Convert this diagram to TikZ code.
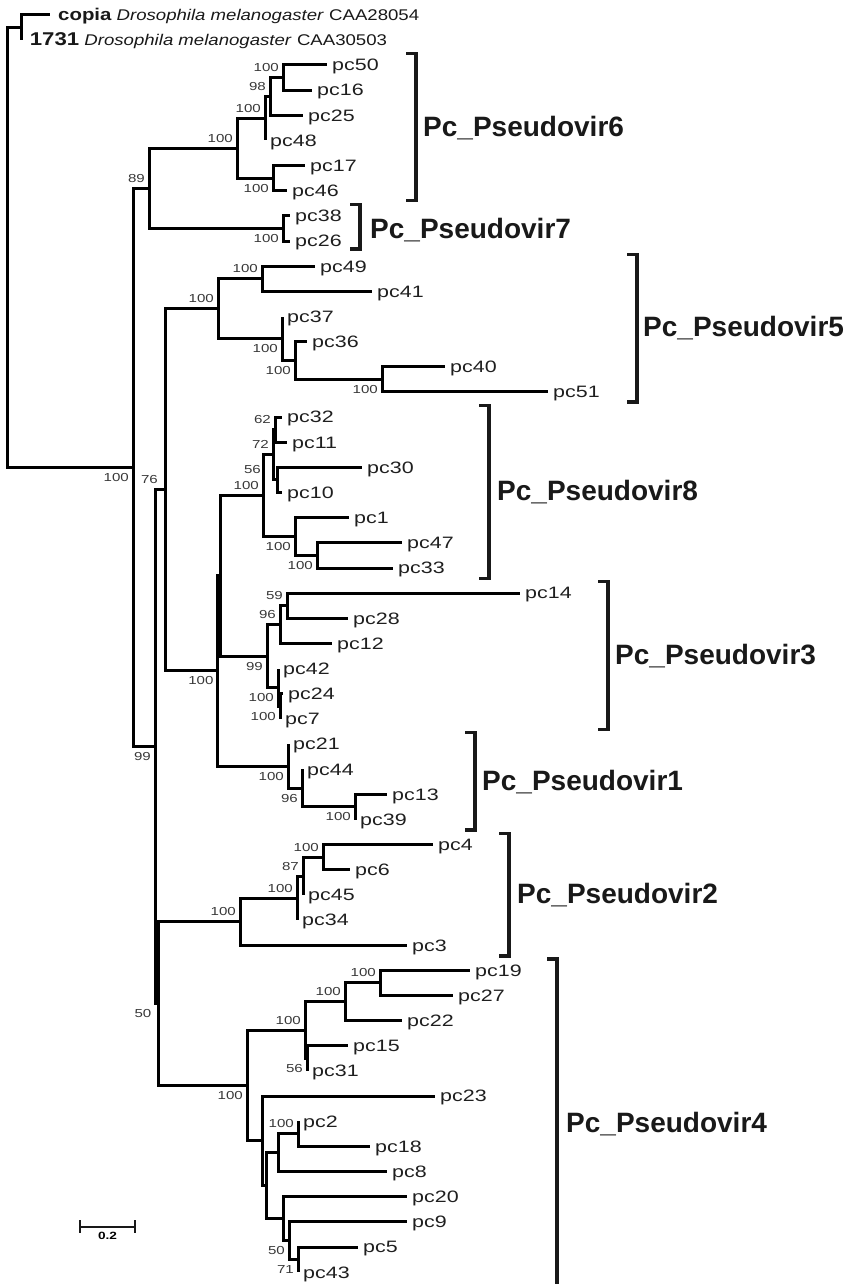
\documentclass[tikz,border=0pt]{standalone}
\usepackage{fontspec}
\setmainfont{Liberation Sans}
\newfontfamily\treefont[FakeStretch=1.3]{Liberation Sans}
\newfontfamily\rootfont[FakeStretch=1.2]{Liberation Sans}
\tikzset{
    branch/.style = {line width=3pt, draw=black},
    bracket/.style = {line width=3.4pt, draw=black!90},
    scalebar/.style = {line width=1.6pt, draw=black!90},
    tip/.style = {anchor=base west, inner sep=0pt, xshift=5pt, yshift=-5.8pt, text=black!88, font=\treefont\fontsize{16.5}{18}\selectfont},
    rootlbl/.style = {anchor=base west, inner sep=0pt, xshift=8pt, yshift=-5.6pt, text=black!90, font=\rootfont\fontsize{15.5}{17}\selectfont},
    bu/.style = {anchor=base east, inner sep=0pt, xshift=-4pt, yshift=6pt, text=black!78, font=\treefont\fontsize{11.6}{12}\selectfont},
    bd/.style = {anchor=base east, inner sep=0pt, xshift=-4pt, yshift=-14pt, text=black!78, font=\treefont\fontsize{11.6}{12}\selectfont},
    clade/.style = {anchor=base west, inner sep=0pt, yshift=-10pt, text=black!90, font=\bfseries\fontsize{28}{30}\selectfont}
}
\begin{document}
\begin{tikzpicture}[x=1pt, y=-1pt]
\useasboundingbox (0,0) rectangle (851,1284);
%
% tips
\coordinate (copia) at (50, 14.7);
\coordinate (t1731) at (21.7, 39.85);
\coordinate (pc50) at (327, 65.0);
\coordinate (pc16) at (312, 90.15);
\coordinate (pc25) at (303, 115.3);
\coordinate (pc48) at (265, 140.45);
\coordinate (pc17) at (305, 165.6);
\coordinate (pc46) at (287, 190.75);
\coordinate (pc38) at (290, 215.9);
\coordinate (pc26) at (290, 241.05);
\coordinate (pc49) at (315, 266.2);
\coordinate (pc41) at (372, 291.35);
\coordinate (pc37) at (282, 316.5);
\coordinate (pc36) at (307, 341.65);
\coordinate (pc40) at (445, 366.8);
\coordinate (pc51) at (548, 391.95);
\coordinate (pc32) at (282, 417.1);
\coordinate (pc11) at (287, 442.25);
\coordinate (pc30) at (362, 467.4);
\coordinate (pc10) at (282, 492.55);
\coordinate (pc1) at (349, 517.7);
\coordinate (pc47) at (402, 542.85);
\coordinate (pc33) at (393, 568.0);
\coordinate (pc14) at (520, 593.15);
\coordinate (pc28) at (348, 618.3);
\coordinate (pc12) at (332, 643.45);
\coordinate (pc42) at (278, 668.6);
\coordinate (pc24) at (283, 693.75);
\coordinate (pc7) at (280, 718.9);
\coordinate (pc21) at (288, 744.05);
\coordinate (pc44) at (302, 769.2);
\coordinate (pc13) at (387, 794.35);
\coordinate (pc39) at (355, 819.5);
\coordinate (pc4) at (433, 844.65);
\coordinate (pc6) at (350, 869.8);
\coordinate (pc45) at (303, 894.95);
\coordinate (pc34) at (297, 920.1);
\coordinate (pc3) at (407, 945.25);
\coordinate (pc19) at (470, 970.4);
\coordinate (pc27) at (453, 995.55);
\coordinate (pc22) at (402, 1020.7);
\coordinate (pc15) at (348, 1045.85);
\coordinate (pc31) at (307, 1071.0);
\coordinate (pc23) at (435, 1096.15);
\coordinate (pc2) at (298, 1121.3);
\coordinate (pc18) at (370, 1146.45);
\coordinate (pc8) at (387, 1171.6);
\coordinate (pc20) at (407, 1196.75);
\coordinate (pc9) at (407, 1221.9);
\coordinate (pc5) at (358, 1247.05);
\coordinate (pc43) at (298, 1272.2);
%
% inner nodes
\coordinate (R0) at (7, 247.41);
\coordinate (CO) at (21.7, 27.28);
\coordinate (IN) at (133, 467.55);
\coordinate (P67) at (149, 188.39);
\coordinate (P6) at (237, 148.31);
\coordinate (A) at (265, 118.44);
\coordinate (A1) at (270, 96.44);
\coordinate (A2) at (283, 77.575);
\coordinate (B) at (273, 178.18);
\coordinate (P7) at (283, 228.48);
\coordinate (N99) at (155, 746.70);
\coordinate (N76) at (165, 489.80);
\coordinate (P5) at (218, 308.64);
\coordinate (P5a) at (262, 278.78);
\coordinate (P5b) at (282, 338.51);
\coordinate (P5c) at (295, 360.51);
\coordinate (P5d) at (382, 379.38);
\coordinate (NA) at (217.7, 670.96);
\coordinate (NB) at (220.7, 575.86);
\coordinate (P8) at (263, 495.70);
\coordinate (n72) at (273, 454.83);
\coordinate (n62) at (275, 429.68);
\coordinate (n56) at (277, 479.98);
\coordinate (P8b) at (295, 536.56);
\coordinate (P8c) at (317, 555.43);
\coordinate (P3) at (267, 656.03);
\coordinate (n96) at (280, 624.59);
\coordinate (n59) at (287, 605.73);
\coordinate (L) at (278, 687.46);
\coordinate (nI) at (280, 706.33);
\coordinate (P1) at (288, 766.06);
\coordinate (P1b) at (302, 788.06);
\coordinate (P1c) at (355, 806.93);
\coordinate (N50) at (158.5, 1003.61);
\coordinate (P2) at (240, 921.67);
\coordinate (P2a) at (297, 898.10);
\coordinate (n87) at (303, 876.09);
\coordinate (n100a) at (323, 857.23);
\coordinate (P4) at (247, 1085.54);
\coordinate (P4a) at (305, 1030.13);
\coordinate (P4b) at (345, 1001.84);
\coordinate (P4c) at (380, 982.98);
\coordinate (n56b) at (307, 1058.43);
\coordinate (P4d) at (262.5, 1140.95);
\coordinate (P4e) at (266, 1185.75);
\coordinate (P4f) at (278, 1152.74);
\coordinate (n100b) at (298, 1133.88);
\coordinate (P4g) at (283, 1218.76);
\coordinate (n50) at (289, 1240.76);
\coordinate (n71) at (298, 1259.63);
%
% branches
\draw[branch] (R0) |- (CO);
\draw[branch] (R0) |- (IN);
\draw[branch] (CO) |- (copia);
\draw[branch] (CO) |- (t1731);
\draw[branch] (IN) |- (P67);
\draw[branch] (IN) |- (N99);
\draw[branch] (P67) |- (P6);
\draw[branch] (P67) |- (P7);
\draw[branch] (P6) |- (A);
\draw[branch] (P6) |- (B);
\draw[branch] (A) |- (A1);
\draw[branch] (A) |- (pc48);
\draw[branch] (A1) |- (A2);
\draw[branch] (A1) |- (pc25);
\draw[branch] (A2) |- (pc50);
\draw[branch] (A2) |- (pc16);
\draw[branch] (B) |- (pc17);
\draw[branch] (B) |- (pc46);
\draw[branch] (P7) |- (pc38);
\draw[branch] (P7) |- (pc26);
\draw[branch] (N99) |- (N76);
\draw[branch] (N99) |- (N50);
\draw[branch] (N76) |- (P5);
\draw[branch] (N76) |- (NA);
\draw[branch] (P5) |- (P5a);
\draw[branch] (P5) |- (P5b);
\draw[branch] (P5a) |- (pc49);
\draw[branch] (P5a) |- (pc41);
\draw[branch] (P5b) |- (pc37);
\draw[branch] (P5b) |- (P5c);
\draw[branch] (P5c) |- (pc36);
\draw[branch] (P5c) |- (P5d);
\draw[branch] (P5d) |- (pc40);
\draw[branch] (P5d) |- (pc51);
\draw[branch] (NA) |- (NB);
\draw[branch] (NA) |- (P1);
\draw[branch] (NB) |- (P8);
\draw[branch] (NB) |- (P3);
\draw[branch] (P8) |- (n72);
\draw[branch] (P8) |- (P8b);
\draw[branch] (n72) |- (n62);
\draw[branch] (n72) |- (n56);
\draw[branch] (n62) |- (pc32);
\draw[branch] (n62) |- (pc11);
\draw[branch] (n56) |- (pc30);
\draw[branch] (n56) |- (pc10);
\draw[branch] (P8b) |- (pc1);
\draw[branch] (P8b) |- (P8c);
\draw[branch] (P8c) |- (pc47);
\draw[branch] (P8c) |- (pc33);
\draw[branch] (P3) |- (n96);
\draw[branch] (P3) |- (L);
\draw[branch] (n96) |- (n59);
\draw[branch] (n96) |- (pc12);
\draw[branch] (n59) |- (pc14);
\draw[branch] (n59) |- (pc28);
\draw[branch] (L) |- (pc42);
\draw[branch] (L) |- (nI);
\draw[branch] (nI) |- (pc24);
\draw[branch] (nI) |- (pc7);
\draw[branch] (P1) |- (pc21);
\draw[branch] (P1) |- (P1b);
\draw[branch] (P1b) |- (pc44);
\draw[branch] (P1b) |- (P1c);
\draw[branch] (P1c) |- (pc13);
\draw[branch] (P1c) |- (pc39);
\draw[branch] (N50) |- (P2);
\draw[branch] (N50) |- (P4);
\draw[branch] (P2) |- (P2a);
\draw[branch] (P2) |- (pc3);
\draw[branch] (P2a) |- (n87);
\draw[branch] (P2a) |- (pc34);
\draw[branch] (n87) |- (n100a);
\draw[branch] (n87) |- (pc45);
\draw[branch] (n100a) |- (pc4);
\draw[branch] (n100a) |- (pc6);
\draw[branch] (P4) |- (P4a);
\draw[branch] (P4) |- (P4d);
\draw[branch] (P4a) |- (P4b);
\draw[branch] (P4a) |- (n56b);
\draw[branch] (P4b) |- (P4c);
\draw[branch] (P4b) |- (pc22);
\draw[branch] (P4c) |- (pc19);
\draw[branch] (P4c) |- (pc27);
\draw[branch] (n56b) |- (pc15);
\draw[branch] (n56b) |- (pc31);
\draw[branch] (P4d) |- (pc23);
\draw[branch] (P4d) |- (P4e);
\draw[branch] (P4e) |- (P4f);
\draw[branch] (P4e) |- (P4g);
\draw[branch] (P4f) |- (n100b);
\draw[branch] (P4f) |- (pc8);
\draw[branch] (n100b) |- (pc2);
\draw[branch] (n100b) |- (pc18);
\draw[branch] (P4g) |- (pc20);
\draw[branch] (P4g) |- (n50);
\draw[branch] (n50) |- (pc9);
\draw[branch] (n50) |- (n71);
\draw[branch] (n71) |- (pc5);
\draw[branch] (n71) |- (pc43);
%
% bootstrap values
\node[bd] at (IN) (bIN) {100};
\node[bu] at (P67) (bP67) {89};
\node[bu] at (P6) (bP6) {100};
\node[bu] at (A) (bA) {100};
\node[bu] at (A1) (bA1) {98};
\node[bu] at (A2) (bA2) {100};
\node[bd] at (B) (bB) {100};
\node[bd] at (P7) (bP7) {100};
\node[bd] at (N99) (bN99) {99};
\node[bu, xshift=-3pt] at (N76) (bN76) {76};
\node[bu] at (P5) (bP5) {100};
\node[bu] at (P5a) (bP5a) {100};
\node[bd] at (P5b) (bP5b) {100};
\node[bd] at (P5c) (bP5c) {100};
\node[bd] at (P5d) (bP5d) {100};
\node[bd] at (NA) (bNA) {100};
\node[bu] at (P8) (bP8) {100};
\node[bu] at (n72) (bn72) {72};
\node[bu] at (n62) (bn62) {62};
\node[bu, xshift=-12pt] at (n56) (bn56) {56};
\node[bd] at (P8b) (bP8b) {100};
\node[bd] at (P8c) (bP8c) {100};
\node[bd] at (P3) (bP3) {99};
\node[bu] at (n96) (bn96) {96};
\node[bu] at (n59) (bn59) {59};
\node[bd] at (L) (bL) {100};
\node[bd] at (nI) (bnI) {100};
\node[bd] at (P1) (bP1) {100};
\node[bd] at (P1b) (bP1b) {96};
\node[bd] at (P1c) (bP1c) {100};
\node[bd, xshift=-3pt] at (N50) (bN50) {50};
\node[bu] at (P2) (bP2) {100};
\node[bu] at (P2a) (bP2a) {100};
\node[bu] at (n87) (bn87) {87};
\node[bu] at (n100a) (bn100a) {100};
\node[bd] at (P4) (bP4) {100};
\node[bu] at (P4a) (bP4a) {100};
\node[bu] at (P4b) (bP4b) {100};
\node[bu] at (P4c) (bP4c) {100};
\node[bd] at (n56b) (bn56b) {56};
\node[bu] at (n100b) (bn100b) {100};
\node[bd] at (n50) (bn50) {50};
\node[bd] at (n71) (bn71) {71};
%
% tip labels
\node[rootlbl] at (copia) (lcopia) {{\bfseries\fontsize{17}{18}\selectfont copia} \textit{Drosophila melanogaster} CAA28054};
\node[rootlbl] at (t1731) (l1731) {{\bfseries\fontsize{18.5}{19}\selectfont 1731} \textit{Drosophila melanogaster} CAA30503};
\node[tip] at (pc50) (l50) {pc50};
\node[tip] at (pc16) (l16) {pc16};
\node[tip] at (pc25) (l25) {pc25};
\node[tip] at (pc48) (l48) {pc48};
\node[tip] at (pc17) (l17) {pc17};
\node[tip] at (pc46) (l46) {pc46};
\node[tip] at (pc38) (l38) {pc38};
\node[tip] at (pc26) (l26) {pc26};
\node[tip] at (pc49) (l49) {pc49};
\node[tip] at (pc41) (l41) {pc41};
\node[tip] at (pc37) (l37) {pc37};
\node[tip] at (pc36) (l36) {pc36};
\node[tip] at (pc40) (l40) {pc40};
\node[tip] at (pc51) (l51) {pc51};
\node[tip] at (pc32) (l32) {pc32};
\node[tip] at (pc11) (l11) {pc11};
\node[tip] at (pc30) (l30) {pc30};
\node[tip] at (pc10) (l10) {pc10};
\node[tip] at (pc1) (l1) {pc1};
\node[tip] at (pc47) (l47) {pc47};
\node[tip] at (pc33) (l33) {pc33};
\node[tip] at (pc14) (l14) {pc14};
\node[tip] at (pc28) (l28) {pc28};
\node[tip] at (pc12) (l12) {pc12};
\node[tip] at (pc42) (l42) {pc42};
\node[tip] at (pc24) (l24) {pc24};
\node[tip] at (pc7) (l7) {pc7};
\node[tip] at (pc21) (l21) {pc21};
\node[tip] at (pc44) (l44) {pc44};
\node[tip] at (pc13) (l13) {pc13};
\node[tip] at (pc39) (l39) {pc39};
\node[tip] at (pc4) (l4) {pc4};
\node[tip] at (pc6) (l6) {pc6};
\node[tip] at (pc45) (l45) {pc45};
\node[tip] at (pc34) (l34) {pc34};
\node[tip] at (pc3) (l3) {pc3};
\node[tip] at (pc19) (l19) {pc19};
\node[tip] at (pc27) (l27) {pc27};
\node[tip] at (pc22) (l22) {pc22};
\node[tip] at (pc15) (l15) {pc15};
\node[tip] at (pc31) (l31) {pc31};
\node[tip] at (pc23) (l23) {pc23};
\node[tip] at (pc2) (l2) {pc2};
\node[tip] at (pc18) (l18) {pc18};
\node[tip] at (pc8) (l8) {pc8};
\node[tip] at (pc20) (l20) {pc20};
\node[tip] at (pc9) (l9) {pc9};
\node[tip] at (pc5) (l5) {pc5};
\node[tip] at (pc43) (l43) {pc43};
%
% clade brackets
\coordinate (k6a) at (416, 53.5);   \coordinate (k6b) at (416, 200.5);
\coordinate (k7a) at (360, 204.5);  \coordinate (k7b) at (360, 249);
\coordinate (k5a) at (637, 254.7);  \coordinate (k5b) at (637, 402);
\coordinate (k8a) at (489, 405.6);  \coordinate (k8b) at (489, 578.5);
\coordinate (k3a) at (608, 581.6);  \coordinate (k3b) at (608, 729.5);
\coordinate (k1a) at (475, 732.5);  \coordinate (k1b) at (475, 830);
\coordinate (k2a) at (509, 833.5);  \coordinate (k2b) at (509, 956);
\coordinate (k4a) at (557, 959);    \coordinate (k4b) at (557, 1284);
\draw[bracket] ([xshift=-10pt]k6a) -- (k6a) -- (k6b) -- ([xshift=-10pt]k6b);
\draw[bracket] ([xshift=-10pt]k7a) -- (k7a) -- (k7b) -- ([xshift=-10pt]k7b);
\draw[bracket] ([xshift=-10pt]k5a) -- (k5a) -- (k5b) -- ([xshift=-10pt]k5b);
\draw[bracket] ([xshift=-10pt]k8a) -- (k8a) -- (k8b) -- ([xshift=-10pt]k8b);
\draw[bracket] ([xshift=-10pt]k3a) -- (k3a) -- (k3b) -- ([xshift=-10pt]k3b);
\draw[bracket] ([xshift=-10pt]k1a) -- (k1a) -- (k1b) -- ([xshift=-10pt]k1b);
\draw[bracket] ([xshift=-10pt]k2a) -- (k2a) -- (k2b) -- ([xshift=-10pt]k2b);
\draw[bracket] ([xshift=-10pt]k4a) -- (k4a) -- (k4b);
%
\node[clade] at (423, 126.5) (v6) {Pc\_Pseudovir6};
\node[clade] at (370, 228.6) (v7) {Pc\_Pseudovir7};
\node[clade] at (643, 326.5) (v5) {Pc\_Pseudovir5};
\node[clade] at (497, 490) (v8) {Pc\_Pseudovir8};
\node[clade] at (615, 654) (v3) {Pc\_Pseudovir3};
\node[clade] at (482, 780) (v1) {Pc\_Pseudovir1};
\node[clade] at (517, 893) (v2) {Pc\_Pseudovir2};
\node[clade] at (566, 1122) (v4) {Pc\_Pseudovir4};
%
% scale bar
\coordinate (sb1) at (80, 1227);
\coordinate (sb2) at (135, 1227);
\coordinate (sbm) at (107.5, 1232);
\draw[scalebar] (sb1) -- (sb2);
\draw[scalebar] ([yshift=7pt]sb1) -- ([yshift=-6pt]sb1);
\draw[scalebar] ([yshift=7pt]sb2) -- ([yshift=-6pt]sb2);
\node[anchor=north, inner sep=0pt, font=\treefont\bfseries\fontsize{10.5}{11}\selectfont] at (sbm) (sbl) {0.2};

\end{tikzpicture}
\end{document}
